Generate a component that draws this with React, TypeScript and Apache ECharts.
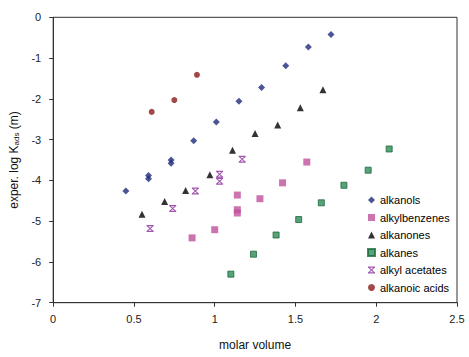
import React, { useEffect, useRef } from "react";
import * as echarts from "echarts";

const alkanols: number[][] = [
  [0.45, -4.26], [0.59, -3.88], [0.59, -3.96], [0.73, -3.5], [0.73, -3.58],
  [0.87, -3.03], [1.01, -2.57], [1.15, -2.06], [1.29, -1.72], [1.44, -1.19],
  [1.58, -0.73], [1.72, -0.42],
];
const alkylbenzenes: number[][] = [
  [0.86, -5.41], [1.0, -5.21], [1.14, -4.36], [1.14, -4.72], [1.14, -4.8],
  [1.28, -4.45], [1.42, -4.06], [1.57, -3.55],
];
const alkanones: number[][] = [
  [0.55, -4.83], [0.69, -4.52], [0.82, -4.25], [0.97, -3.86], [1.11, -3.26],
  [1.25, -2.85], [1.39, -2.64], [1.53, -2.22], [1.67, -1.78],
];
const alkanes: number[][] = [
  [1.1, -6.3], [1.24, -5.81], [1.38, -5.34], [1.52, -4.96], [1.66, -4.55],
  [1.8, -4.12], [1.95, -3.75], [2.08, -3.23],
];
const alkylAcetates: number[][] = [
  [0.6, -5.18], [0.74, -4.69], [0.88, -4.26], [1.03, -3.85], [1.03, -4.02],
  [1.17, -3.48],
];
const alkanoicAcids: number[][] = [
  [0.61, -2.32], [0.75, -2.03], [0.89, -1.41],
];

const seriesNames = ["alkanols", "alkylbenzenes", "alkanones", "alkanes", "alkyl acetates", "alkanoic acids"];

const starPath =
  "path://M0,0 L10,0 L10,1.8 L0,1.8 Z M0,8.2 L10,8.2 L10,10 L0,10 Z M0.4,1.8 L2.6,1.8 L9.6,8.2 L7.4,8.2 Z M7.4,1.8 L9.6,1.8 L2.6,8.2 L0.4,8.2 Z";

export default function App() {
  const ref = useRef<HTMLDivElement>(null);
  useEffect(() => {
    const chart = echarts.init(ref.current!, null, { renderer: "svg" });
    const font = "'Liberation Sans', Arial, sans-serif";
    chart.setOption({
      animation: false,
      backgroundColor: "#fff",
      grid: {
        left: 52.7, top: 17.3, right: 12, bottom: 54.3,
        show: true, borderColor: "#333", borderWidth: 1, backgroundColor: "transparent",
      },
      legend: {
        orient: "vertical",
        left: 367,
        top: 194,
        padding: 0,
        itemWidth: 7,
        itemHeight: 7,
        itemGap: 5.5,
        textStyle: { fontFamily: font, fontSize: 11, color: "#000", lineHeight: 12 },
        data: seriesNames,
      },
      xAxis: {
        type: "value", min: 0, max: 2.5, interval: 0.5,
        name: "molar volume", nameLocation: "middle", nameGap: 36,
        nameTextStyle: { fontFamily: font, fontSize: 12, color: "#111" },
        axisLine: { onZero: false, lineStyle: { color: "#333" } },
        axisTick: { inside: false, length: 4, lineStyle: { color: "#333" } },
        axisLabel: { fontFamily: font, fontSize: 11, color: "#222", margin: 11 },
        splitLine: { show: false },
      },
      yAxis: {
        type: "value", min: -7, max: 0, interval: 1,
        name: "exper. log K{sub|ads} (m)", nameLocation: "middle", nameGap: 30,
        nameRotate: 90,
        nameTextStyle: {
          fontFamily: font, fontSize: 12, color: "#111",
          rich: { sub: { fontFamily: font, fontSize: 8, color: "#111", verticalAlign: "bottom", padding: [5, 0, 0, 0] } },
        },
        axisLine: { onZero: false, lineStyle: { color: "#333" } },
        axisTick: { inside: false, length: 4, lineStyle: { color: "#333" } },
        axisLabel: { fontFamily: font, fontSize: 11, color: "#222", margin: 12 },
        splitLine: { show: false },
      },
      series: [
        { name: "alkanols", type: "scatter", data: alkanols, symbol: "diamond", symbolSize: 7,
          itemStyle: { color: "#1f2a7a" } },
        { name: "alkylbenzenes", type: "scatter", data: alkylbenzenes, symbol: "rect", symbolSize: 7,
          itemStyle: { color: "#c0509c" } },
        { name: "alkanones", type: "scatter", data: alkanones, symbol: "triangle", symbolSize: 7,
          itemStyle: { color: "#000" } },
        { name: "alkanes", type: "scatter", data: alkanes, symbol: "rect", symbolSize: 6,
          itemStyle: { color: "#2e8b57", borderColor: "#1c6a3c", borderWidth: 1 } },
        { name: "alkyl acetates", type: "scatter", data: alkylAcetates, symbol: starPath, symbolSize: 7,
          itemStyle: { color: "#8a2a9a" } },
        { name: "alkanoic acids", type: "scatter", data: alkanoicAcids, symbol: "circle", symbolSize: 6,
          itemStyle: { color: "#8b1a1a" } },
      ],
    });
    return () => chart.dispose();
  }, []);
  return <div ref={ref} style={{ width: 469, height: 357, position: "absolute", left: 0, top: 0 }} />;
}
